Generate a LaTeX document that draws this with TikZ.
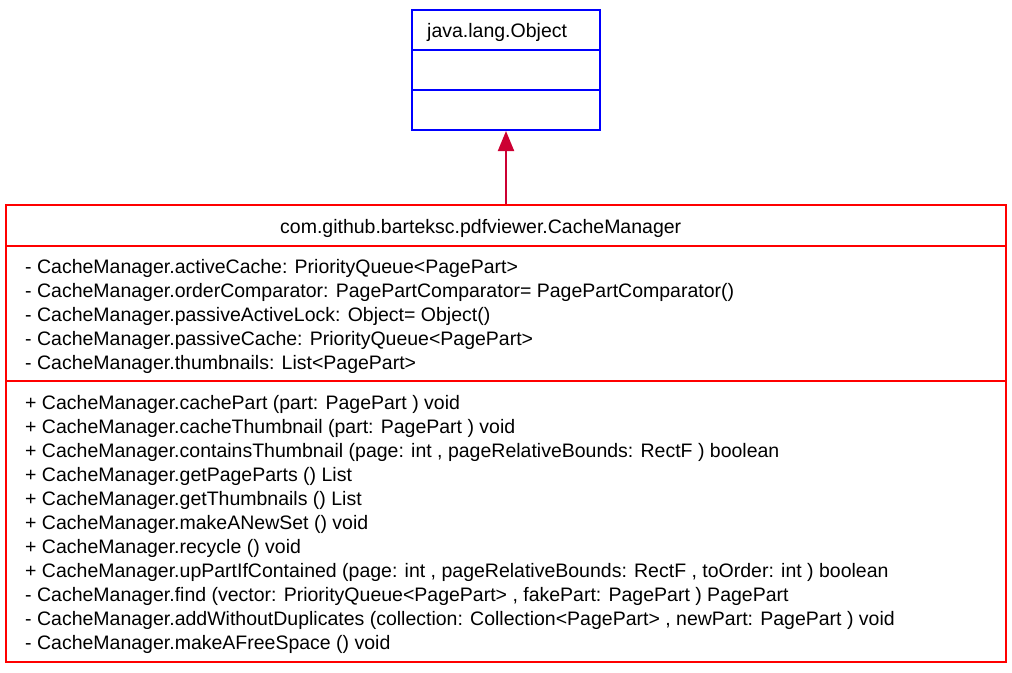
\documentclass[tikz,border=0pt]{standalone}
\usepackage{fontspec}
\setmainfont{Liberation Sans}
\usepackage{tikz}
\usetikzlibrary{arrows.meta}

\definecolor{umlblue}{RGB}{0,0,255}
\definecolor{umlred}{RGB}{255,0,0}
\definecolor{umlarrow}{RGB}{204,0,51}

\begin{document}
\begin{tikzpicture}[
    x=1pt, y=-1pt,
    parentbox/.style={
        rectangle,
        draw=umlblue,
        line width=2pt,
        minimum width=188pt,
        minimum height=120pt,
        inner sep=0pt
    },
    classbox/.style={
        rectangle,
        draw=umlred,
        line width=2pt,
        minimum width=1000pt,
        minimum height=457pt,
        inner sep=0pt
    },
    member/.style={
        anchor=base west,
        inner sep=0pt,
        font=\fontsize{19.5}{24}\selectfont
    },
    inherit/.style={
        -{Triangle[length=20pt,width=16pt]},
        line width=2pt,
        color=umlarrow
    }
]
\useasboundingbox (0,0) rectangle (1012,672);

% Parent class
\node[parentbox] (object) at (506,70) {};
\draw[umlblue, line width=2pt] (object.west |- 0,50) -- (object.east |- 0,50);
\draw[umlblue, line width=2pt] (object.west |- 0,90) -- (object.east |- 0,90);
\node[member] (objname) at (427,37) {java.lang.Object};

% CacheManager class
\node[classbox] (cache) at (506,433.5) {};
\draw[umlred, line width=2pt] (cache.west |- 0,246) -- (cache.east |- 0,246);
\draw[umlred, line width=2pt] (cache.west |- 0,381) -- (cache.east |- 0,381);
\node[member] (cachename) at (280,233) {com.github.barteksc.pdfviewer.CacheManager};

% Attributes
\node[member] (attr1) at (25,273) {- CacheManager.activeCache: PriorityQueue<PagePart>};
\node[member] (attr2) at (25,297) {- CacheManager.orderComparator: PagePartComparator= PagePartComparator()};
\node[member] (attr3) at (25,321) {- CacheManager.passiveActiveLock: Object= Object()};
\node[member] (attr4) at (25,345) {- CacheManager.passiveCache: PriorityQueue<PagePart>};
\node[member] (attr5) at (25,369) {- CacheManager.thumbnails: List<PagePart>};

% Operations
\node[member] (op1) at (25,409) {+ CacheManager.cachePart (part: PagePart ) void};
\node[member] (op2) at (25,433) {+ CacheManager.cacheThumbnail (part: PagePart ) void};
\node[member] (op3) at (25,457) {+ CacheManager.containsThumbnail (page: int , pageRelativeBounds: RectF ) boolean};
\node[member] (op4) at (25,481) {+ CacheManager.getPageParts () List};
\node[member] (op5) at (25,505) {+ CacheManager.getThumbnails () List};
\node[member] (op6) at (25,529) {+ CacheManager.makeANewSet () void};
\node[member] (op7) at (25,553) {+ CacheManager.recycle () void};
\node[member] (op8) at (25,577) {+ CacheManager.upPartIfContained (page: int , pageRelativeBounds: RectF , toOrder: int ) boolean};
\node[member] (op9) at (25,601) {- CacheManager.find (vector: PriorityQueue<PagePart> , fakePart: PagePart ) PagePart};
\node[member] (op10) at (25,625) {- CacheManager.addWithoutDuplicates (collection: Collection<PagePart> , newPart: PagePart ) void};
\node[member] (op11) at (25,649) {- CacheManager.makeAFreeSpace () void};

% Generalization
\draw[inherit] (cache.north) -- (object.south);

\end{tikzpicture}
\end{document}
